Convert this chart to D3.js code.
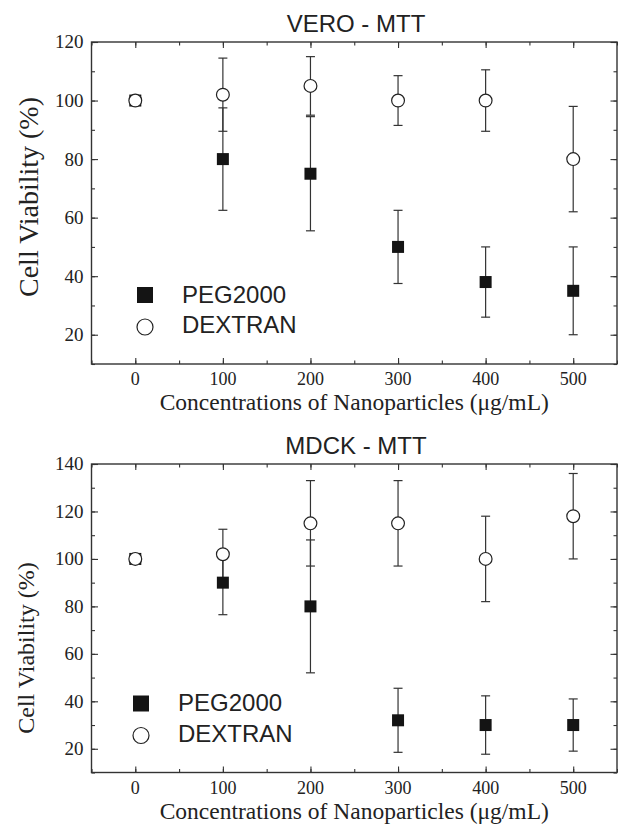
<!DOCTYPE html>
<html>
<head>
<meta charset="utf-8">
<script src="https://cdn.jsdelivr.net/npm/d3@7"></script>
<style>
  body { margin: 0; background: #fff; }
  svg { display: block; }
</style>
</head>
<body>
<svg id="chart"></svg>
<script>
const width = 618, height = 826;

// concentrations (ug/mL)
const doses = [0, 100, 200, 300, 400, 500];
const xTicks = [0, 100, 200, 300, 400, 500];

// VERO - MTT
const veroPeg = [100, 80, 75, 50, 38, 35];
const veroPegErr = [0, 17.5, 19.5, 12.5, 12, 15];
const veroDex = [100, 102, 105, 100, 100, 80];
const veroDexErr = [0, 12.5, 10, 8.5, 10.5, 18];
const veroYTicks = [20, 40, 60, 80, 100, 120];

// MDCK - MTT
const mdckPeg = [100, 90, 80, 32, 30, 30];
const mdckPegErr = [0, 13.5, 28, 13.5, 12.3, 11];
const mdckDex = [100, 102, 115, 115, 100, 118];
const mdckDexErr = [0, 10.5, 18, 18, 18, 18];
const mdckYTicks = [20, 40, 60, 80, 100, 120, 140];

const seriesNames = ["PEG2000", "DEXTRAN"];

const svg = d3.select("#chart")
    .attr("width", width)
    .attr("height", height);

const serif = "'Liberation Serif', 'Times New Roman', serif";
const sans = "'Liberation Sans', Arial, sans-serif";

function drawPanel(opt) {
    const x = d3.scaleLinear().domain([-50, 550]).range([91.5, 617]);
    const y = d3.scaleLinear().domain(opt.yDomain).range([opt.bottom, opt.top]);
    const g = svg.append("g");

    // minor ticks every 10 (y) and 50 (x)
    const yMinor = d3.range(opt.yDomain[0], opt.yDomain[1] + 1, 10);
    const xMinor = d3.range(-50, 551, 50);

    // left + right axes, ticks inside
    g.append("g").attr("transform", `translate(${x.range()[0]},0)`)
        .call(d3.axisRight(y).tickValues(yMinor).tickSize(3.5).tickFormat(""));
    g.append("g").attr("transform", `translate(${x.range()[0]},0)`)
        .call(d3.axisRight(y).tickValues(opt.yTicks).tickSize(6.5).tickFormat(""));
    g.append("g").attr("transform", `translate(${x.range()[1]},0)`)
        .call(d3.axisLeft(y).tickValues(yMinor).tickSize(3.5).tickFormat(""));
    g.append("g").attr("transform", `translate(${x.range()[1]},0)`)
        .call(d3.axisLeft(y).tickValues(opt.yTicks).tickSize(6.5).tickFormat(""));
    // bottom + top axes
    g.append("g").attr("transform", `translate(0,${opt.bottom})`)
        .call(d3.axisTop(x).tickValues(xMinor).tickSize(3.5).tickFormat(""));
    g.append("g").attr("transform", `translate(0,${opt.bottom})`)
        .call(d3.axisTop(x).tickValues(xTicks).tickSize(6).tickFormat(""));
    g.append("g").attr("transform", `translate(0,${opt.top})`)
        .call(d3.axisBottom(x).tickValues(xMinor).tickSize(3.5).tickFormat(""));
    g.append("g").attr("transform", `translate(0,${opt.top})`)
        .call(d3.axisBottom(x).tickValues(xTicks).tickSize(6).tickFormat(""));

    g.selectAll(".domain").remove();
    g.selectAll(".tick line").attr("stroke", "#333").attr("stroke-width", 1.1);

    // frame
    g.append("rect")
        .attr("x", x.range()[0]).attr("y", opt.top)
        .attr("width", x.range()[1] - x.range()[0])
        .attr("height", opt.bottom - opt.top)
        .attr("fill", "none").attr("stroke", "#333").attr("stroke-width", 1.4);

    // tick labels
    g.selectAll(".ylab").data(opt.yTicks).join("text")
        .attr("x", x.range()[0] - 8)
        .attr("y", d => y(d))
        .attr("dy", "0.34em")
        .attr("text-anchor", "end")
        .style("font-family", serif).style("font-size", "19px").attr("fill", "#222")
        .text(d => d);
    g.selectAll(".xlab").data(xTicks).join("text")
        .attr("x", d => x(d))
        .attr("y", opt.bottom + 21)
        .attr("text-anchor", "middle")
        .style("font-family", serif).style("font-size", "18px").attr("fill", "#222")
        .text(d => d);

    // axis titles
    g.append("text")
        .attr("x", (x.range()[0] + x.range()[1]) / 2)
        .attr("y", opt.bottom + 46)
        .attr("text-anchor", "middle")
        .style("font-family", serif).style("font-size", "23.5px").attr("fill", "#222")
        .text("Concentrations of Nanoparticles (\u03bcg/mL)");
    g.append("text")
        .attr("transform", `translate(${opt.yTitleX},${opt.yTitleY}) rotate(-90)`)
        .attr("text-anchor", "middle")
        .style("font-family", serif).style("font-size", opt.yTitleSize + "px").attr("fill", "#222")
        .text("Cell Viability (%)");

    // panel title
    g.append("text")
        .attr("x", 356)
        .attr("y", opt.top - 10)
        .attr("text-anchor", "middle")
        .style("font-family", sans).style("font-size", "24px").attr("fill", "#222")
        .text(opt.title);

    const pegPts = doses.map((d, i) => ({ x: d, v: opt.peg[i], e: opt.pegErr[i] }));
    const dexPts = doses.map((d, i) => ({ x: d, v: opt.dex[i], e: opt.dexErr[i] }));

    // error bars
    function errBars(pts) {
        const eb = g.append("g").attr("stroke", "#333").attr("stroke-width", 1.2);
        pts.filter(p => p.e > 0).forEach(p => {
            const cx = x(p.x);
            eb.append("line").attr("x1", cx).attr("x2", cx)
                .attr("y1", y(p.v - p.e)).attr("y2", y(p.v + p.e));
            [p.v - p.e, p.v + p.e].forEach(v => {
                eb.append("line").attr("x1", cx - 4.5).attr("x2", cx + 4.5)
                    .attr("y1", y(v)).attr("y2", y(v));
            });
        });
    }
    errBars(pegPts);
    errBars(dexPts);

    // markers
    const s = 12;
    g.selectAll(".peg").data(pegPts).join("rect")
        .attr("x", d => x(d.x) - s / 2)
        .attr("y", d => y(d.v) - s / 2)
        .attr("width", s).attr("height", s)
        .attr("fill", "#141414");
    g.selectAll(".dex").data(dexPts).join("circle")
        .attr("cx", d => x(d.x))
        .attr("cy", d => y(d.v))
        .attr("r", 6.4)
        .attr("fill", "#fff").attr("stroke", "#222").attr("stroke-width", 1.2);

    // legend
    const lg = g.append("g");
    lg.append("rect")
        .attr("x", opt.legX - 8).attr("y", opt.bottom - 69 - 8)
        .attr("width", 16).attr("height", 16).attr("fill", "#141414");
    lg.append("circle")
        .attr("cx", opt.legX).attr("cy", opt.bottom - 37)
        .attr("r", 8).attr("fill", "#fff").attr("stroke", "#222").attr("stroke-width", 1.2);
    lg.selectAll("text").data(seriesNames).join("text")
        .attr("x", opt.legX + 37)
        .attr("y", (d, i) => i === 0 ? opt.bottom - 61.5 : opt.bottom - 31)
        .style("font-family", sans).style("font-size", "24px").attr("fill", "#222")
        .text(d => d);
}

drawPanel({
    title: "VERO - MTT",
    top: 42, bottom: 364,
    yDomain: [10, 120], yTicks: veroYTicks,
    peg: veroPeg, pegErr: veroPegErr, dex: veroDex, dexErr: veroDexErr,
    legX: 145,
    yTitleX: 38, yTitleY: 197, yTitleSize: 28
});

drawPanel({
    title: "MDCK - MTT",
    top: 464, bottom: 772.5,
    yDomain: [10, 140], yTicks: mdckYTicks,
    peg: mdckPeg, pegErr: mdckPegErr, dex: mdckDex, dexErr: mdckDexErr,
    legX: 141,
    yTitleX: 34, yTitleY: 648, yTitleSize: 24
});
</script>
</body>
</html>
